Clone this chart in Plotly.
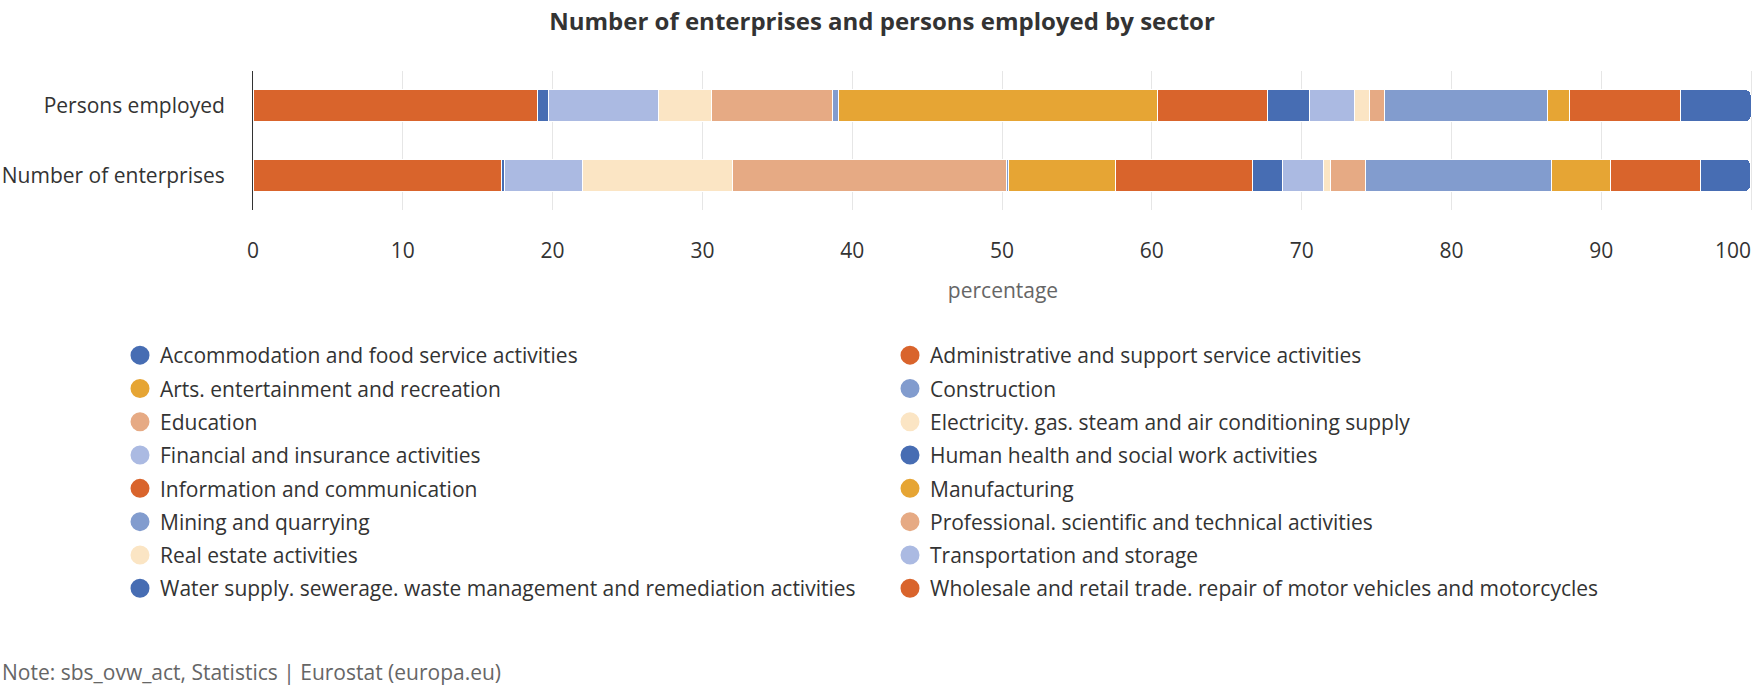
import plotly.graph_objects as go

# ---- data ----
categories = ["Number of enterprises", "Persons employed"]

sectors = [
    "Accommodation and food service activities",
    "Administrative and support service activities",
    "Arts. entertainment and recreation",
    "Construction",
    "Education",
    "Electricity. gas. steam and air conditioning supply",
    "Financial and insurance activities",
    "Human health and social work activities",
    "Information and communication",
    "Manufacturing",
    "Mining and quarrying",
    "Professional. scientific and technical activities",
    "Real estate activities",
    "Transportation and storage",
    "Water supply. sewerage. waste management and remediation activities",
    "Wholesale and retail trade. repair of motor vehicles and motorcycles",
]

persons_employed = [4.7, 7.4, 1.5, 10.9, 1.0, 1.0, 3.0, 2.8, 7.3, 21.3, 0.4, 8.1, 3.5, 7.4, 0.7, 19.0]
number_of_enterprises = [3.3, 6.0, 4.0, 12.4, 2.3, 0.5, 2.7, 2.0, 9.2, 7.1, 0.15, 18.3, 10.0, 5.2, 0.2, 16.6]

x_ticks = [0, 10, 20, 30, 40, 50, 60, 70, 80, 90]
x_last_tick = [100]

# ---- style ----
palette = ["#476db3", "#d9642c", "#e6a534", "#829cce", "#e6aa84", "#fbe5c4", "#abbae2"]
FONT = "Open Sans"
TXT = "#333333"
FS = 21
X_RANGE = [0, 100.13]

fig = go.Figure()

# bars: stacked in reverse alphabetical order (Wholesale first, at the axis)
for i in reversed(range(len(sectors))):
    fig.add_trace(go.Bar(
        y=categories,
        x=[number_of_enterprises[i], persons_employed[i]],
        orientation="h",
        name=sectors[i],
        marker=dict(color=palette[i % len(palette)], line=dict(color="white", width=1)),
        showlegend=False,
        hoverinfo="skip",
    ))

# empty trace so that the overlay axis carrying the last tick is drawn
fig.add_trace(go.Scatter(x=[None], y=[None], xaxis="x2", yaxis="y",
                         mode="markers", showlegend=False, hoverinfo="skip"))

# legend entries (circle symbols), split in two columns
for i, s in enumerate(sectors):
    fig.add_trace(go.Scatter(
        x=[None], y=[None],
        mode="markers",
        name=s,
        marker=dict(symbol="circle", size=16, color=palette[i % len(palette)],
                    line=dict(color=palette[i % len(palette)], width=3)),
        legend="legend" if i % 2 == 0 else "legend2",
        legendgroup=f"g{i}",
        showlegend=True,
        hoverinfo="skip",
    ))

legend_common = dict(
    orientation="v",
    traceorder="grouped",
    tracegroupgap=3,
    font=dict(family=FONT, size=FS, color=TXT),
    xref="container", yref="container",
    xanchor="left", yanchor="top",
    bgcolor="rgba(0,0,0,0)",
    itemclick=False, itemdoubleclick=False,
)

fig.update_layout(
    width=1764, height=693,
    margin=dict(l=253, r=11, t=71, b=483, autoexpand=False),
    paper_bgcolor="white", plot_bgcolor="white",
    barmode="stack",
    bargap=0.54,
    barcornerradius=5,
    hovermode=False,
    font=dict(family=FONT, size=FS, color=TXT),
    title=dict(
        text="<b>Number of enterprises and persons employed by sector</b>",
        font=dict(family=FONT, size=24, color=TXT),
        x=0.5, xref="container", xanchor="center",
        y=1 - 21.7 / 693, yref="container", yanchor="middle",
    ),
    xaxis=dict(
        range=X_RANGE,
        tickvals=x_ticks,
        ticktext=[str(v) for v in x_ticks],
        showgrid=True, gridcolor="#e6e6e6", gridwidth=1,
        zeroline=False, showline=False,
        ticks="",
        ticklabelstandoff=26,
        tickfont=dict(family=FONT, size=FS, color=TXT),
        title=dict(text="percentage", font=dict(family=FONT, size=FS, color="#666666"), standoff=20),
        automargin=False,
        fixedrange=True,
    ),
    xaxis2=dict(
        overlaying="x", anchor="y", side="bottom",
        range=X_RANGE,
        tickvals=x_last_tick,
        ticktext=[str(v) for v in x_last_tick],
        ticklabelposition="outside left",
        showgrid=True, gridcolor="#e6e6e6", gridwidth=1,
        zeroline=False, showline=False,
        ticks="",
        ticklabelstandoff=26,
        tickfont=dict(family=FONT, size=FS, color=TXT),
        automargin=False,
        fixedrange=True,
    ),
    yaxis=dict(
        categoryorder="array", categoryarray=categories,
        range=[-0.5, 1.5],
        showline=True, linecolor="#333333", linewidth=1,
        showgrid=False, zeroline=False,
        ticks="",
        ticklabelstandoff=23,
        tickfont=dict(family=FONT, size=FS, color=TXT),
        automargin=False,
        fixedrange=True,
    ),
    legend=dict(legend_common, x=120 / 1764, y=1 - 335 / 693),
    legend2=dict(legend_common, x=890 / 1764, y=1 - 335 / 693),
    annotations=[dict(
        text="Note: sbs_ovw_act, Statistics | Eurostat (europa.eu)",
        xref="paper", yref="paper",
        x=(0 - 253) / 1500, y=(210 - 672) / 139,
        xanchor="left", yanchor="middle",
        showarrow=False,
        font=dict(family=FONT, size=FS, color="#666666"),
    )],
)

fig.write_html("out.html")
